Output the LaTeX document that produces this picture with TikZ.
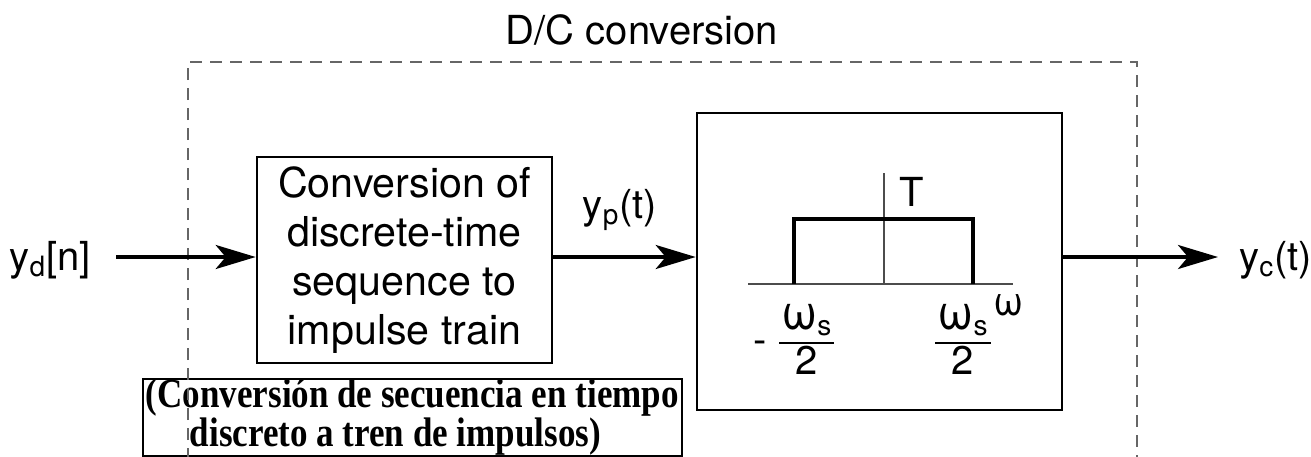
\documentclass[tikz,border=0pt]{standalone}
\usepackage{amsmath}
\usepackage{graphicx}
\usepackage{fontspec}
\setmainfont{TeX Gyre Heros}
\newfontfamily\capfont{Liberation Serif}
\usetikzlibrary{arrows.meta}

\newcommand{\wsfrac}{{\setlength{\arrayrulewidth}{0.8pt}\setlength{\tabcolsep}{1pt}%
  \begin{tabular}{c}\scalebox{1.2}{ω}\textsubscript{s}\\\hline 2\end{tabular}}}

\tikzset{
  lbl/.style={font=\fontsize{20}{22}\selectfont, inner sep=0pt},
  fraclbl/.style={font=\fontsize{20}{22}\selectfont, inner sep=0pt},
  blockbox/.style={draw, line width=1.3pt, inner sep=0pt, align=center,
    font=\fontsize{20.6}{24.5}\selectfont},
  sigarrow/.style={line width=1.8pt, -{Stealth[length=20pt, width=12pt, inset=5pt]}},
  dcframe/.style={draw=black!60, line width=0.75pt, dash pattern=on 6pt off 4pt},
  capbox/.style={draw, line width=0.8pt, inner xsep=1.5pt, inner ysep=0pt,
    font=\capfont\bfseries\fontsize{17.5}{14}\selectfont},
}

\begin{document}
\begin{tikzpicture}[x=0.5pt, y=-0.5pt]
  \useasboundingbox (0,0) rectangle (1311,456);

  % ---- blocks ----
  \node[blockbox, minimum width=147.5pt, minimum height=103pt] (conv) at (404.5,260)
    {Conversion of\\discrete-time\\sequence to\\impulse train};
  \node[blockbox, minimum width=182.5pt, minimum height=148.5pt] (lpf) at (879.5,261.5) {};

  % ---- caption ----
  \node[capbox, minimum width=269.5pt, minimum height=37pt, anchor=north west] (cap) at (142,378)
    {\raisebox{-2pt}{\scalebox{1}[1.18]{\begin{tabular}{@{}l@{}}(Conversión de secuencia en tiempo\\
      \hspace*{22pt}discreto a tren de impulsos)\end{tabular}}}};

  % ---- D/C frame ----
  \draw[dcframe] (188,460) -- (188,62) -- (1137,62) -- (1137,460);
  \node[lbl, anchor=base] (title) at (642,44) {D/C conversion};

  % ---- signals ----
  \node[lbl, anchor=base east] (yd) at (91,270) {y$_\text{d}$[n]};
  \coordinate (yin) at (116,257);
  \draw[sigarrow] (yin) -- (yin -| conv.west);
  \draw[sigarrow] (conv.east |- yin) -- (lpf.west |- yin);
  \node[lbl, anchor=base] (yp) at (620,218) {y$_\text{p}$(t)};
  \coordinate (yout) at (1218,257);
  \draw[sigarrow] (lpf.east |- yout) -- (yout);
  \node[lbl, anchor=base west] (yc) at (1239,270) {y$_\text{c}$(t)};

  % ---- spectrum of the filter ----
  \draw[black!70, line width=0.75pt] (748,284) -- (1013,284);
  \draw[black!70, line width=0.6pt] (884,284) -- (884,173);
  \draw[line width=2pt] (794,284) -- (794,219) -- (973,219) -- (973,284);
  \node[lbl] (gain) at (912,192) {T};
  \node[lbl] (omega) at (1009,305) {ω};
  \node[fraclbl] (wlo) at (794,343) {-\hspace{6pt}\wsfrac};
  \node[fraclbl] (whi) at (963,343) {\wsfrac};
\end{tikzpicture}
\end{document}
